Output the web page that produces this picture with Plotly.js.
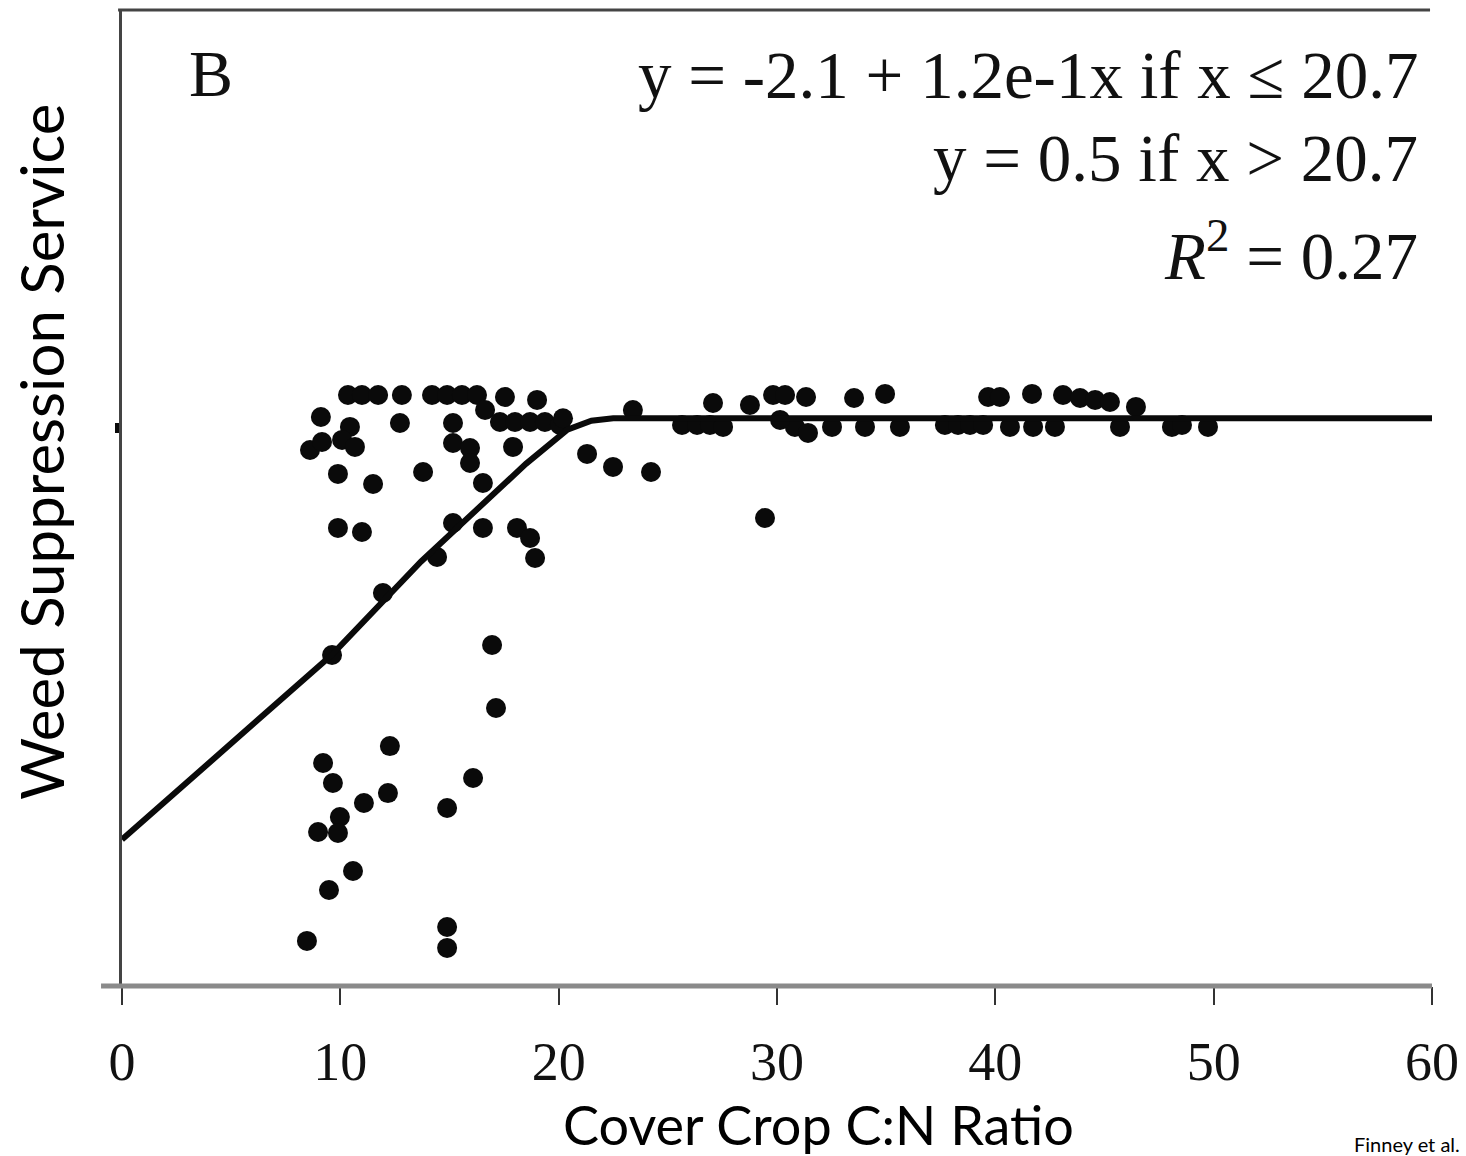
<!DOCTYPE html>
<html>
<head>
<meta charset="utf-8">
<script src="https://cdn.plot.ly/plotly-3.0.1.min.js"></script>
<style>html,body{margin:0;padding:0;background:#fff;}#chart{width:1466px;height:1156px;}</style>
</head>
<body>
<div id="chart"></div>
<script>
// Observed points: cover crop C:N ratio vs weed suppression service
const cnRatio = [
  10.35, 10.99, 11.73, 12.82, 14.20, 14.89, 15.57, 16.26, 16.63, 17.54, 19.01,
  9.11, 12.73, 10.44, 10.08, 10.67, 8.61, 9.16, 9.89, 11.50, 13.79, 9.89, 10.99,
  15.16, 15.16, 15.94, 17.31, 18.00, 18.69, 19.37, 20.06, 17.91, 15.94, 16.53,
  15.16, 16.53, 18.09, 18.69, 18.92, 14.43, 11.95, 9.62, 16.95, 17.13, 12.27,
  9.21, 9.66, 11.08, 12.18, 9.98, 8.98, 9.89, 14.89, 16.08, 10.58, 9.48, 8.47,
  14.89, 14.89,
  20.20, 21.30, 22.49, 24.23, 23.40, 25.65, 26.34, 26.93, 27.53, 27.07, 28.76,
  29.82, 30.37, 31.33, 29.45, 30.82, 31.42, 32.52, 33.53, 34.03, 34.95, 35.63,
  37.69, 38.29, 38.84, 39.44, 39.67, 40.21, 40.67, 41.68, 41.73, 42.73, 43.10,
  43.88, 44.57, 45.25, 45.71, 46.44, 48.09, 48.55, 49.74, 30.14
];
const weedService = [
  0.633, 0.633, 0.633, 0.633, 0.633, 0.633, 0.633, 0.633, 0.541, 0.621, 0.603,
  0.498, 0.461, 0.437, 0.357, 0.314, 0.295, 0.344, 0.148, 0.086, 0.160, -0.184, -0.209,
  0.461, 0.338, 0.307, 0.467, 0.467, 0.467, 0.467, 0.449, 0.314, 0.215, 0.092,
  -0.154, -0.184, -0.184, -0.246, -0.369, -0.363, -0.584, -0.965, -0.904, -1.291, -1.525,
  -1.629, -1.752, -1.875, -1.814, -1.961, -2.053, -2.059, -1.906, -1.721, -2.293, -2.410, -2.723,
  -2.637, -2.766,
  0.490, 0.271, 0.191, 0.160, 0.541, 0.449, 0.449, 0.449, 0.437, 0.584, 0.572,
  0.633, 0.633, 0.621, -0.123, 0.437, 0.400, 0.437, 0.615, 0.437, 0.640, 0.437,
  0.449, 0.449, 0.449, 0.449, 0.621, 0.621, 0.437, 0.640, 0.437, 0.437, 0.633,
  0.615, 0.603, 0.590, 0.437, 0.560, 0.437, 0.449, 0.437, 0.480
];
// Fitted piecewise curve, as drawn
const fitX = [0, 5, 9.6, 13.7, 16, 18.5, 20.4, 21.5, 22.5, 60];
const fitY = [-2.10, -1.51, -0.965, -0.39, -0.10, 0.21, 0.42, 0.475, 0.49, 0.49];

const xTicks = [0, 10, 20, 30, 40, 50, 60];
const xTickText = ['0', '10', '20', '30', '40', '50', '60'];
const yTicks = [0.43];

const serif = '"Liberation Serif", "Times New Roman", serif';
const sans = 'Lato, "Open Sans", sans-serif';

const traces = [
  {
    x: cnRatio, y: weedService, type: 'scatter', mode: 'markers',
    marker: {color: '#0a0a0a', size: 20, line: {width: 0}},
    hoverinfo: 'x+y', showlegend: false
  },
  {
    x: fitX, y: fitY, type: 'scatter', mode: 'lines',
    line: {color: '#0a0a0a', width: 6},
    hoverinfo: 'skip', showlegend: false
  }
];

const layout = {
  width: 1466, height: 1156,
  margin: {l: 122, r: 34, t: 10, b: 170, pad: 0},
  paper_bgcolor: '#ffffff', plot_bgcolor: '#ffffff',
  showlegend: false,
  xaxis: {
    range: [0, 60], tickvals: xTicks, ticktext: xTickText,
    ticks: 'outside', ticklen: 18, tickwidth: 2, tickcolor: '#333',
    ticklabelstandoff: 10,
    tickfont: {family: serif, size: 54, color: '#111'},
    showline: false, showgrid: false, zeroline: false
  },
  yaxis: {
    range: [-3, 3], tickvals: yTicks, showticklabels: false,
    ticks: 'outside', ticklen: 4, tickwidth: 10, tickcolor: '#0a0a0a',
    showline: true, linecolor: '#444', linewidth: 3,
    showgrid: false, zeroline: false
  },
  shapes: [
    {type: 'line', xref: 'paper', yref: 'paper', x0: -0.016, x1: 1.0, y0: 0, y1: 0,
     line: {color: '#8a8a8a', width: 5}},
    {type: 'line', xref: 'paper', yref: 'paper', x0: -0.003, x1: 0.9985, y0: 1, y1: 1,
     line: {color: '#444', width: 3}}
  ],
  annotations: [
    {text: 'B', xref: 'paper', yref: 'paper', x: 0.068, y: 0.935, xanchor: 'center', yanchor: 'middle',
     showarrow: false, font: {family: serif, size: 66, color: '#111'}},
    {text: 'y = -2.1 + 1.2e-1x if x ≤ 20.7', xref: 'paper', yref: 'paper', x: 0.991, y: 0.933,
     xanchor: 'right', yanchor: 'middle', showarrow: false, font: {family: serif, size: 67, color: '#111'}},
    {text: 'y = 0.5 if x > 20.7', xref: 'paper', yref: 'paper', x: 0.991, y: 0.848,
     xanchor: 'right', yanchor: 'middle', showarrow: false, font: {family: serif, size: 67, color: '#111'}},
    {text: '<i>R</i><sup>2</sup> = 0.27', xref: 'paper', yref: 'paper', x: 0.991, y: 0.753,
     xanchor: 'right', yanchor: 'middle', showarrow: false, font: {family: serif, size: 67, color: '#111'}},
    {text: 'Weed Suppression Service', xref: 'paper', yref: 'paper', x: -0.062, y: 0.547,
     xanchor: 'center', yanchor: 'middle', textangle: -90, showarrow: false,
     font: {family: sans, size: 60, color: '#000'}},
    {text: 'Cover Crop C:N Ratio', xref: 'paper', yref: 'paper', x: 0.5313, y: -0.142,
     xanchor: 'center', yanchor: 'middle', showarrow: false,
     font: {family: sans, size: 54, color: '#000'}},
    {text: 'Finney et al.', xref: 'paper', yref: 'paper', x: 1.023, y: -0.162,
     xanchor: 'right', yanchor: 'middle', showarrow: false,
     font: {family: sans, size: 20, color: '#000'}}
  ]
};

Plotly.newPlot('chart', traces, layout, {staticPlot: true, displayModeBar: false});
</script>
</body>
</html>
